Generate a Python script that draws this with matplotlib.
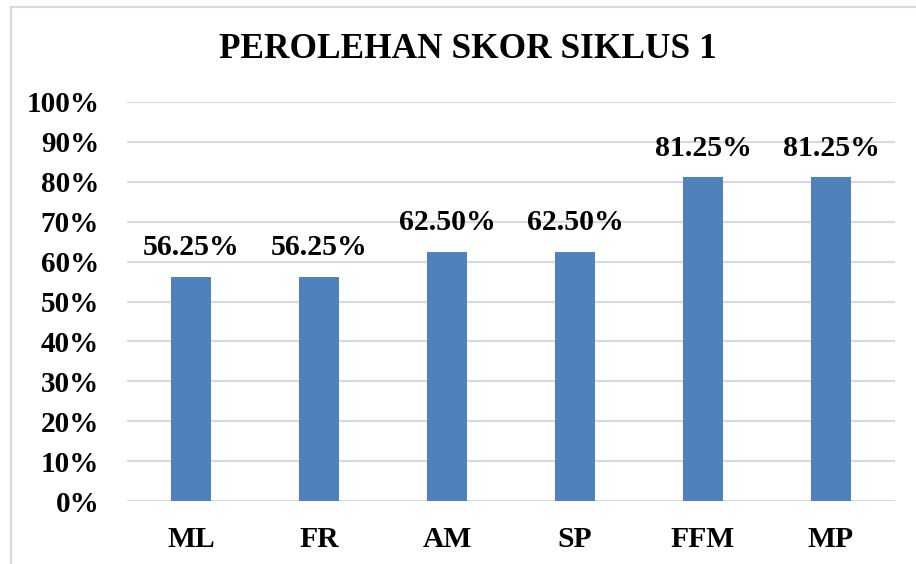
import matplotlib
matplotlib.use("Agg")
import matplotlib.pyplot as plt
from matplotlib.lines import Line2D

categories = ["ML", "FR", "AM", "SP", "FFM", "MP"]
values = [56.25, 56.25, 62.50, 62.50, 81.25, 81.25]
yticks = [0, 10, 20, 30, 40, 50, 60, 70, 80, 90, 100]
title = "PEROLEHAN SKOR SIKLUS 1"

plt.rcParams['font.family'] = ['Liberation Serif', 'DejaVu Serif']
plt.rcParams['font.weight'] = 'bold'

W, H = 916, 564
fig = plt.figure(figsize=(W / 100, H / 100), dpi=100)
ax = fig.add_axes([127 / W, 1 - 501 / H, (895 - 127) / W, (501 - 102) / H])

x = list(range(len(categories)))
bars = ax.bar(x, values, width=0.3125, color="#4F81BD", zorder=3)
ax.set_xlim(-0.5, len(categories) - 0.5)
ax.set_ylim(0, 100)
ax.set_yticks(yticks)
ax.set_yticklabels([f"{v}%" for v in yticks], fontsize=21, fontweight='bold')
ax.set_xticks(x)
ax.set_xticklabels(categories, fontsize=21.3, fontweight='bold')
ax.tick_params(axis='y', length=0, pad=20)
ax.tick_params(axis='x', length=0, pad=18)
ax.grid(axis='y', color="#D9D9D9", linewidth=1.5, zorder=0)
for s in ax.spines.values():
    s.set_visible(False)

for xi, v in zip(x, values):
    ax.annotate(f"{v:.2f}%", (xi, v), xytext=(0, 11), textcoords='offset points',
                ha='center', va='bottom', fontsize=21.5, fontweight='bold')

fig.text(468 / W, 1 - 50 / H, title, ha='center', va='center', fontsize=25.4, fontweight='bold')

# chart border
fig.add_artist(Line2D([11 / W, 11 / W], [0, 1 - 7 / H], transform=fig.transFigure, color="#D9D9D9", linewidth=1.5))
fig.add_artist(Line2D([11 / W, 1], [1 - 7 / H, 1 - 7 / H], transform=fig.transFigure, color="#D9D9D9", linewidth=1.5))

fig.savefig("out.png", dpi=100)
